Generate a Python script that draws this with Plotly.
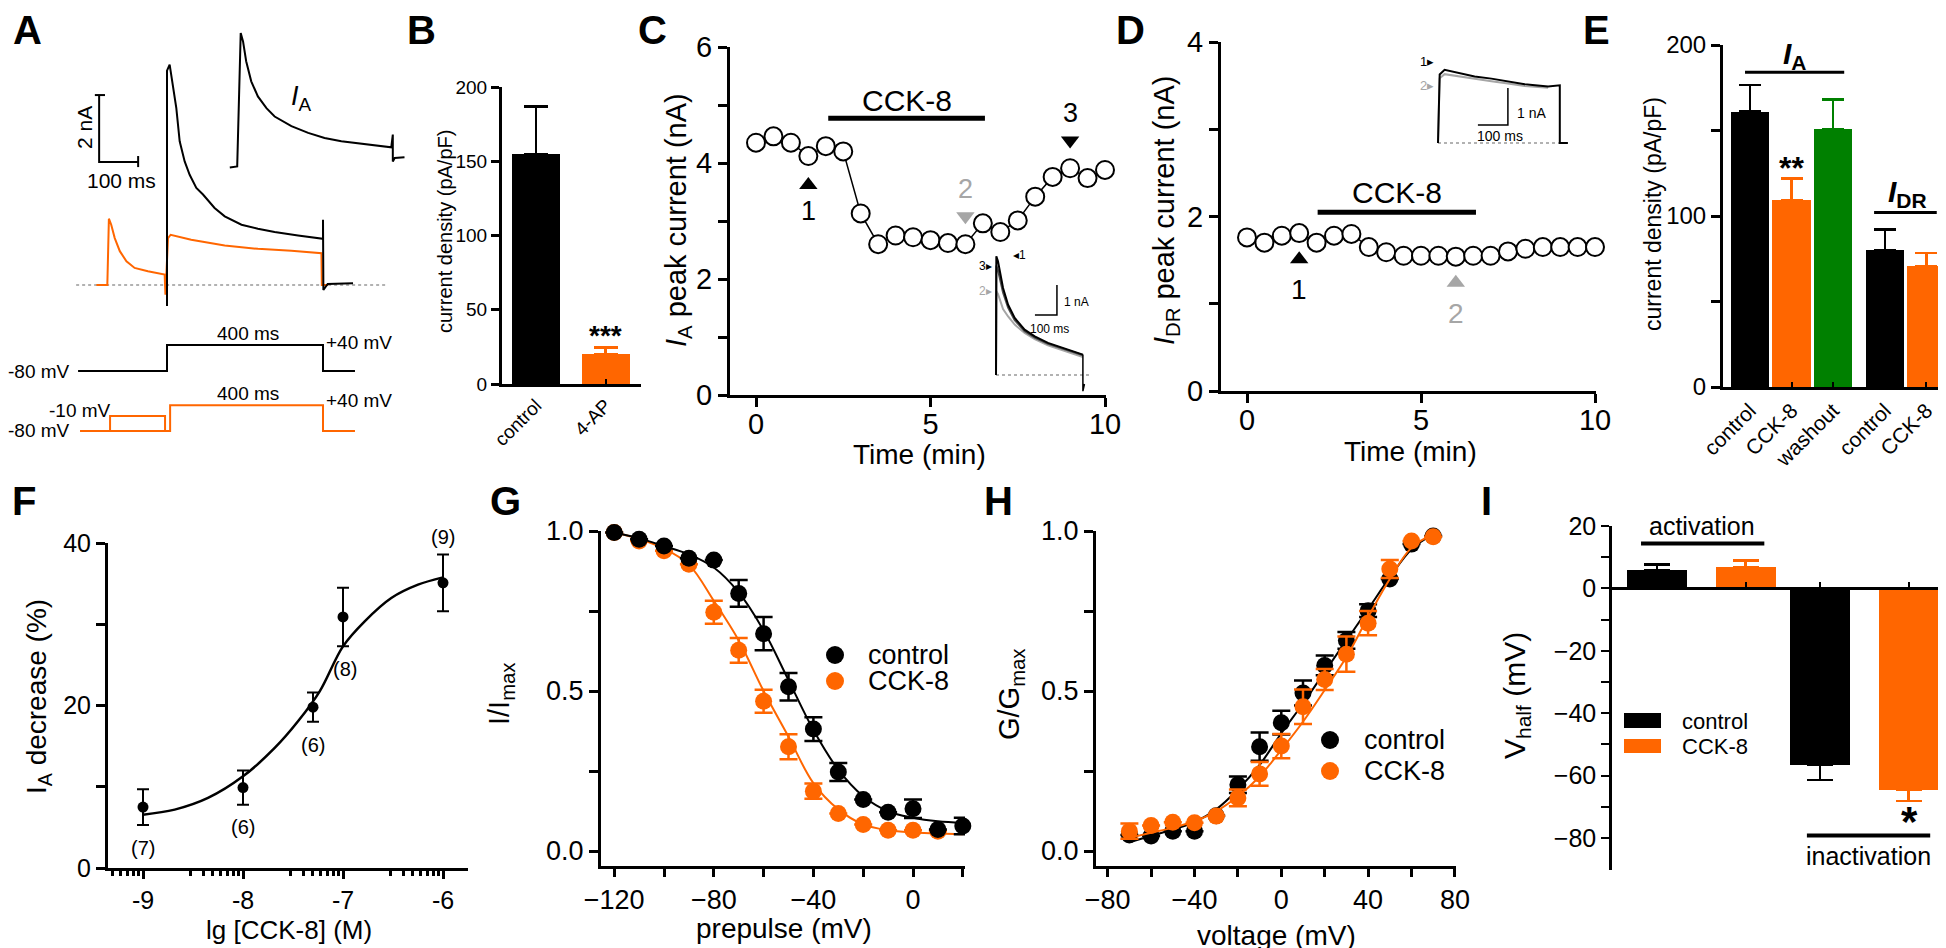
import plotly.graph_objects as go

W, H = 1946, 948
FONT = "Liberation Sans, Arial, Helvetica, sans-serif"
BLACK = "#000000"
ORANGE = "#FF6600"
GREEN = "#008000"
GRAY = "#A6A6A6"
DGRAY = "#4D4D4D"

# ======================= DATA =======================
# --- A: whole-cell currents (time in ms after step onset, current in nA)
A_ctrl_t = [0, 0, 6.8, 15.4, 23.9, 32.5, 45.3, 58.1, 75.2, 92.3, 122, 148, 191, 233, 276, 336, 400, 400, 401, 412, 477]
A_ctrl_i = [-0.63, 6.4, 6.58, 5.98, 5.28, 4.29, 3.69, 3.29, 2.90, 2.70, 2.30, 2.05, 1.80, 1.68, 1.58, 1.48, 1.38, 1.95, -0.15, 0.03, 0.05]
A_4ap_t = [-181, -153, -149, -143, -134, -121, -104, -83, -49, -6, -4, 2.6, 9.4, 62, 148, 233, 319, 396, 397, 413]
A_4ap_i = [0, 0, 1.98, 1.80, 1.40, 1.01, 0.71, 0.51, 0.41, 0.31, -0.29, 1.40, 1.50, 1.35, 1.18, 1.08, 1.02, 0.95, 0.0, 0.0]
# isolated I_A (subtracted trace)
A_IA_t = [-28, -9, 0, 6, 14, 27, 44, 66, 87, 130, 173, 215, 258, 322, 386, 390, 390, 395, 420]
A_IA_i = [-0.01, 0.02, 4.0, 3.75, 3.16, 2.56, 2.11, 1.76, 1.51, 1.22, 1.02, 0.87, 0.77, 0.67, 0.59, 0.97, 0.17, 0.27, 0.29]
A_zero_span = [-233, 562]
A_scale_nA = 2
A_scale_ms = 100
# voltage protocols (ms, mV)
A_prot_ctrl_t = [-228, 0, 0, 400, 400, 482]
A_prot_ctrl_v = [-80, -80, 40, 40, -80, -80]
A_prot_4ap_t = [-223, 8, 8, 400, 400, 482]
A_prot_4ap_v = [-80, -80, 40, 40, -80, -80]
A_prepulse_t = [-146, -146, -5, -5]
A_prepulse_v = [-80, -10, -10, -80]

# --- B: current density
B_cats = ["control", "4-AP"]
B_vals = [155, 20]
B_sem = [32, 4.7]

# --- C: I_A peak current time course
C_time = [0, 0.5, 1, 1.5, 2, 2.5, 3, 3.5, 4, 4.5, 5, 5.5, 6, 6.5, 7, 7.5, 8, 8.5, 9, 9.5, 10]
C_peak = [4.35, 4.46, 4.35, 4.12, 4.29, 4.20, 3.13, 2.60, 2.75, 2.72, 2.67, 2.62, 2.60, 2.96, 2.81,
          3.01, 3.42, 3.76, 3.91, 3.74, 3.88]
C_drug = [2.07, 6.56]
C_marks_t = [1.5, 6.0, 9.0]
C_marks_lbl = ["1", "2", "3"]
C_marks_below = [True, False, False]
# C inset traces (ms, nA)
Ci_t = [0, 1.5, 9, 17, 32, 55, 85, 130, 176, 236, 312, 395]
Ci_1 = [0, 3.96, 3.79, 3.46, 2.90, 2.34, 1.90, 1.51, 1.29, 1.07, 0.88, 0.68]
Ci_3 = [0, 3.65, 3.50, 3.25, 2.75, 2.25, 1.83, 1.46, 1.25, 1.04, 0.86, 0.66]
Ci_2 = [0, 2.79, 2.70, 2.50, 2.20, 1.95, 1.68, 1.40, 1.20, 0.99, 0.81, 0.60]
Ci_tail_t = [395, 395, 402]
Ci_tail_i = [0.68, -0.54, -0.30]

# --- D: I_DR peak current time course
D_time = [0, 0.5, 1, 1.5, 2, 2.5, 3, 3.5, 4, 4.5, 5, 5.5, 6, 6.5, 7, 7.5, 8, 8.5, 9, 9.5, 10]
D_peak = [1.76, 1.70, 1.78, 1.81, 1.70, 1.78, 1.80, 1.65, 1.59, 1.55, 1.55, 1.55, 1.54, 1.55, 1.55,
          1.60, 1.63, 1.65, 1.65, 1.65, 1.65]
D_drug = [2.03, 6.58]
D_marks_t = [1.5, 6.0]
D_marks_lbl = ["1", "2"]
# D inset traces (ms, nA)
Di_t = [0, 5.6, 22, 67, 122, 178, 233, 289, 367, 406, 406, 433]
Di_1 = [0, 1.85, 1.98, 1.89, 1.80, 1.74, 1.67, 1.59, 1.53, 1.56, 0, 0]
Di_t2 = [0, 5.6, 22, 67, 122, 178, 233, 289, 367]
Di_2 = [0, 1.75, 1.86, 1.80, 1.73, 1.67, 1.61, 1.54, 1.49]

# --- E: current density
E_cats = ["control", "CCK-8", "washout", "control", "CCK-8"]
E_pos = [0, 1, 2, 3.25, 4.25]
E_vals = [161, 109.5, 151, 80, 70.5]
E_sem = [15.5, 12.5, 17, 12, 8]

# --- F: concentration-response
F_logc = [-9, -8, -7.3, -7, -6]
F_dec = [7.5, 9.9, 19.8, 30.9, 35.1]
F_sem = [2.2, 2.1, 1.8, 3.6, 3.5]
F_n = ["(7)", "(6)", "(6)", "(8)", "(9)"]
F_fit_x = [-9, -8.683, -8.35, -8, -7.683, -7.45, -7.233, -7, -6.783, -6.517, -6.25, -6]
F_fit_y = [6.56, 7.18, 8.62, 11.28, 14.77, 18.05, 21.74, 27.28, 30.36, 33.23, 34.87, 35.77]

# --- G: steady-state inactivation
G_v = [-120, -110, -100, -90, -80, -70, -60, -50, -40, -30, -20, -10, 0, 10, 20]
G_ctrl = [0.995, 0.974, 0.953, 0.915, 0.909, 0.805, 0.679, 0.513, 0.381, 0.247, 0.161, 0.121, 0.132, 0.067, 0.078]
G_ctrl_sem = [None, None, None, None, None, 0.042, 0.052, 0.043, 0.037, 0.028, None, None, 0.029, None, 0.026]
G_v_cck = [-120, -110, -100, -90, -80, -70, -60, -50, -40, -30, -20, -10, 0, 10]
G_cck = [0.995, 0.969, 0.938, 0.896, 0.746, 0.627, 0.468, 0.326, 0.187, 0.117, 0.083, 0.065, 0.065, 0.062]
G_cck_sem = [None, None, None, None, 0.036, 0.039, 0.036, 0.039, 0.024, None, None, None, None, None]
G_fit_v = [-120, -110, -100, -90, -80, -70, -60, -50, -40, -30, -20, -10, 0, 10, 20]
G_fit_ctrl = [0.995, 0.977, 0.953, 0.927, 0.886, 0.808, 0.689, 0.534, 0.378, 0.254, 0.171, 0.124, 0.104, 0.093, 0.088]
G_fit_cck = [0.995, 0.975, 0.945, 0.895, 0.782, 0.658, 0.500, 0.357, 0.212, 0.130, 0.083, 0.065, 0.058, 0.055, 0.052]

# --- H: activation (G/Gmax)
H_v = [-70, -60, -50, -40, -30, -20, -10, 0, 10, 20, 30, 40, 50, 60, 70]
H_ctrl = [0.05, 0.047, 0.062, 0.062, 0.11, 0.207, 0.326, 0.401, 0.494, 0.580, 0.658, 0.751, 0.850, 0.959, 0.984]
H_ctrl_sem = [None, None, None, None, None, 0.026, 0.044, 0.037, 0.039, 0.031, 0.026, 0.02, None, None, None]
H_cck = [0.062, 0.080, 0.090, 0.088, 0.109, 0.166, 0.241, 0.328, 0.451, 0.536, 0.615, 0.712, 0.881, 0.969, 0.982]
H_cck_sem = [0.024, None, None, None, None, 0.026, 0.037, 0.038, 0.054, 0.033, 0.055, 0.038, 0.028, None, None]
H_fit_ctrl = [0.028, 0.047, 0.067, 0.090, 0.130, 0.192, 0.269, 0.368, 0.461, 0.560, 0.658, 0.756, 0.855, 0.943, 0.990]
H_fit_cck = [0.041, 0.057, 0.073, 0.093, 0.124, 0.171, 0.233, 0.316, 0.404, 0.503, 0.606, 0.731, 0.850, 0.948, 0.990]

# --- I: V_half
I_cond = ["control", "CCK-8", "control", "CCK-8"]
I_pos = [0, 1, 1.838, 2.838]
I_vals = [5.9, 6.8, -56.6, -64.6]
I_sem = [1.7, 2.1, 4.8, 3.6]

COND_COLOR = {"control": BLACK, "4-AP": ORANGE, "CCK-8": ORANGE, "washout": GREEN}

# ======================= LAYOUT HELPERS =======================
fig = go.Figure()
layout = {}
annotations = []
shapes = []

AX = dict(showline=True, linecolor=BLACK, linewidth=3, ticks="outside", ticklen=9, tickwidth=2.5,
          tickcolor=BLACK, showgrid=False, zeroline=False, fixedrange=True)


def lin_x(p0, p1, origin, ppu):
    return [(p0 - origin) / ppu, (p1 - origin) / ppu]


def lin_y(ptop, pbot, origin, ppu):
    return [(origin - pbot) / ppu, (origin - ptop) / ppu]


def axes(n, xpx, ypx, xr, yr, hidden=False, xkw=None, ykw=None):
    s = "" if n == 1 else str(n)
    xa = dict(domain=[xpx[0] / W, xpx[1] / W], range=xr, anchor="y" + s, fixedrange=True)
    ya = dict(domain=[1 - ypx[1] / H, 1 - ypx[0] / H], range=yr, anchor="x" + s, fixedrange=True)
    if hidden:
        xa.update(visible=False)
        ya.update(visible=False)
    else:
        xa.update(AX)
        ya.update(AX)
        xa.update(xkw or {})
        ya.update(ykw or {})
    layout["xaxis" + s] = xa
    layout["yaxis" + s] = ya
    return "x" + s, "y" + s


def tf(size):
    return dict(family=FONT, size=size, color=BLACK)


def ann_px(text, x, y, size, xanchor="center", yanchor="middle", angle=0, color=BLACK):
    annotations.append(dict(text=text, x=x / W, y=1 - y / H, xref="paper", yref="paper",
                            xanchor=xanchor, yanchor=yanchor, showarrow=False, textangle=angle,
                            font=dict(family=FONT, size=size, color=color)))


def ann_d(text, x, y, xr, yr, size, xanchor="center", yanchor="middle", color=BLACK):
    annotations.append(dict(text=text, x=x, y=y, xref=xr, yref=yr, xanchor=xanchor,
                            yanchor=yanchor, showarrow=False,
                            font=dict(family=FONT, size=size, color=color)))


def line(xr, yr, x0, x1, y0, y1, width=2, color=BLACK, dash=None):
    d = dict(type="line", xref=xr, yref=yr, x0=x0, x1=x1, y0=y0, y1=y1,
             line=dict(color=color, width=width))
    if dash:
        d["line"]["dash"] = dash
    shapes.append(d)


def sc(x, y, xa, ya, **kw):
    fig.add_trace(go.Scatter(x=x, y=y, xaxis=xa, yaxis=ya, cliponaxis=False, showlegend=False,
                             hoverinfo="skip", **kw))


# ======================= PANEL A =======================
xa1, ya1 = axes(1, [60, 410], [15, 300], lin_x(60, 410, 159, 0.39), lin_y(15, 300, 277, 33.5), hidden=True)
xa2, ya2 = axes(2, [60, 410], [320, 445], lin_x(60, 410, 159, 0.39), lin_y(320, 445, 345.7, 0.2167), hidden=True)
xa3, ya3 = axes(3, [60, 410], [320, 445], lin_x(60, 410, 159, 0.39), lin_y(320, 445, 405.8, 0.215), hidden=True)

sc(A_zero_span, [0, 0], xa1, ya1, mode="lines", line=dict(color="#999999", width=1.5, dash="dot"))
sc(A_4ap_t, A_4ap_i, xa1, ya1, mode="lines", line=dict(color=ORANGE, width=2))
sc(A_ctrl_t, A_ctrl_i, xa1, ya1, mode="lines", line=dict(color=BLACK, width=2))
IA_t0, IA_i0 = 189, 3.52
sc([t + IA_t0 for t in A_IA_t], [i + IA_i0 for i in A_IA_i], xa1, ya1, mode="lines",
   line=dict(color=BLACK, width=2))
# scale bar
sb_t, sb_i = -174, 3.67
sc([sb_t - 11, sb_t + 15, None, sb_t, sb_t, sb_t + A_scale_ms, None, sb_t + A_scale_ms, sb_t + A_scale_ms],
   [sb_i + A_scale_nA, sb_i + A_scale_nA, None, sb_i + A_scale_nA, sb_i, sb_i, None, sb_i + 0.18, sb_i - 0.15],
   xa1, ya1, mode="lines", line=dict(color=BLACK, width=2))
ann_px("2 nA", 76, 120, 21, angle=-90)
ann_px("100 ms", 113, 172, 21)
ann_px("<i>I</i><sub>A</sub>", 293, 90, 27)

sc(A_prot_ctrl_t, A_prot_ctrl_v, xa2, ya2, mode="lines", line=dict(color=BLACK, width=2))
sc(A_prot_4ap_t, A_prot_4ap_v, xa3, ya3, mode="lines", line=dict(color=ORANGE, width=2))
sc(A_prepulse_t, A_prepulse_v, xa3, ya3, mode="lines", line=dict(color=ORANGE, width=2))
ann_px("-80 mV", 64, 363, 19, xanchor="right")
ann_px("400 ms", 240, 325, 19)
ann_px("+40 mV", 316, 334, 19, xanchor="left")
ann_px("-10 mV", 72, 402, 19)
ann_px("-80 mV", 64, 423, 19, xanchor="right")
ann_px("400 ms", 240, 385, 19)
ann_px("+40 mV", 316, 392, 19, xanchor="left")

# ======================= PANEL B =======================
xb, yb = axes(4, [494, 633], [79, 376], [-0.49, 1.51], [0, 200],
              xkw=dict(tickvals=[0, 1], ticktext=B_cats, tickangle=-45, ticks="inside", ticklen=5,
                       tickwidth=2, tickfont=tf(19)),
              ykw=dict(tickvals=[0, 50, 100, 150, 200], tickfont=tf(19), ticklen=8))
for i, (c, v, e) in enumerate(zip(B_cats, B_vals, B_sem)):
    col = COND_COLOR[c]
    fig.add_trace(go.Bar(x=[i], y=[v], width=[0.69], xaxis=xb, yaxis=yb, marker=dict(color=col, line=dict(width=0)),
                         error_y=dict(type="data", array=[e], arrayminus=[0], symmetric=False, color=col,
                                      thickness=2.5, width=12),
                         showlegend=False, hoverinfo="skip", cliponaxis=False))
ann_d("<b>***</b>", 1, B_vals[1] + B_sem[1] + 8, xb, yb, 28)
ann_px("current density (pA/pF)", 437, 224, 20, angle=-90)

# ======================= PANEL C =======================
xc, yc = axes(5, [722, 1098], [39, 387], lin_x(722, 1098, 748, 34.9), [0, 6],
              xkw=dict(tickvals=[0, 5, 10], tickfont=tf(29), ticklabelstandoff=-8),
              ykw=dict(tickvals=[0, 2, 4, 6], tickfont=tf(29),
                       minor=dict(tickvals=[1, 3, 5], ticks="outside", ticklen=9, tickwidth=2.5, tickcolor=BLACK)))
sc(C_time, C_peak, xc, yc, mode="lines+markers", line=dict(color=BLACK, width=1.5),
   marker=dict(symbol="circle", size=18, color="white", line=dict(color=BLACK, width=2)))
line(xc, yc, C_drug[0], C_drug[1], 4.77, 4.77, width=5)
ann_d("CCK-8", sum(C_drug) / 2, 5.07, xc, yc, 30)
for t, lbl, below in zip(C_marks_t, C_marks_lbl, C_marks_below):
    v = C_peak[C_time.index(t)]
    col = GRAY if lbl == "2" else BLACK
    if below:
        sc([t], [v - 0.5], xc, yc, mode="markers", marker=dict(symbol="triangle-up", size=16, color=col))
        ann_d(lbl, t, v - 0.95, xc, yc, 27, color=col)
    else:
        sc([t], [v + 0.48], xc, yc, mode="markers", marker=dict(symbol="triangle-down", size=16, color=col))
        ann_d(lbl, t, v + 0.95, xc, yc, 27, color=col)
ann_px("<i>I</i><sub>A</sub> peak current (nA)", 670, 212, 29, angle=-90)
ann_px("Time (min)", 911, 446, 28)

# C inset
xci, yci = axes(6, [960, 1095], [240, 390], lin_x(960, 1095, 988, 0.22), lin_y(240, 390, 367, 30), hidden=True)
sc([0, 431], [0, 0], xci, yci, mode="lines", line=dict(color="#999999", width=1.5, dash="dot"))
sc(Ci_t, Ci_2, xci, yci, mode="lines", line=dict(color=GRAY, width=2))
sc(Ci_t, Ci_3, xci, yci, mode="lines", line=dict(color=DGRAY, width=2))
sc(Ci_t, Ci_1, xci, yci, mode="lines", line=dict(color=BLACK, width=2))
sc(Ci_tail_t, Ci_tail_i, xci, yci, mode="lines", line=dict(color=BLACK, width=1.5))
sc([277, 277, 177], [3.0, 2.0, 2.0], xci, yci, mode="lines", line=dict(color=BLACK, width=1.5))
ann_d("1 nA", 300, 2.45, xci, yci, 12, xanchor="left")
ann_d("100 ms", 245, 1.55, xci, yci, 12)
ann_d("3\u25B8", -8, 3.65, xci, yci, 12, xanchor="right")
ann_d("\u25C21", 70, 4.0, xci, yci, 12, xanchor="left")
ann_d("2\u25B8", -8, 2.8, xci, yci, 12, xanchor="right", color=GRAY)

# ======================= PANEL D =======================
xd, yd = axes(7, [1213, 1588], [34, 383], lin_x(1213, 1588, 1239, 34.8), [0, 4],
              xkw=dict(tickvals=[0, 5, 10], tickfont=tf(29), ticklabelstandoff=-8),
              ykw=dict(tickvals=[0, 2, 4], tickfont=tf(29),
                       minor=dict(tickvals=[1, 3], ticks="outside", ticklen=9, tickwidth=2.5, tickcolor=BLACK)))
sc(D_time, D_peak, xd, yd, mode="lines+markers", line=dict(color=BLACK, width=1.5),
   marker=dict(symbol="circle", size=18, color="white", line=dict(color=BLACK, width=2)))
line(xd, yd, D_drug[0], D_drug[1], 2.05, 2.05, width=5)
ann_d("CCK-8", sum(D_drug) / 2, 2.27, xd, yd, 30)
for t, lbl in zip(D_marks_t, D_marks_lbl):
    v = D_peak[D_time.index(t)]
    col = GRAY if lbl == "2" else BLACK
    sc([t], [v - 0.3], xd, yd, mode="markers", marker=dict(symbol="triangle-up", size=16, color=col))
    ann_d(lbl, t, v - 0.65, xd, yd, 28, color=col)
ann_px("<i>I</i><sub>DR</sub> peak current (nA)", 1158, 203, 29, angle=-90)
ann_px("Time (min)", 1402, 443, 28)

# D inset
xdi, ydi = axes(8, [1400, 1580], [40, 145], lin_x(1400, 1580, 1430, 0.3), lin_y(40, 145, 135, 37), hidden=True)
sc([0, 433], [0, 0], xdi, ydi, mode="lines", line=dict(color="#999999", width=1.5, dash="dot"))
sc(Di_t2, Di_2, xdi, ydi, mode="lines", line=dict(color=GRAY, width=2))
sc(Di_t, Di_1, xdi, ydi, mode="lines", line=dict(color=BLACK, width=2))
sc([233, 233, 133], [1.486, 0.486, 0.486], xdi, ydi, mode="lines", line=dict(color=BLACK, width=1.5))
ann_d("1 nA", 255, 0.81, xdi, ydi, 14, xanchor="left")
ann_d("100 ms", 207, 0.18, xdi, ydi, 14)
ann_d("1\u25B8", -8, 2.2, xdi, ydi, 13, xanchor="right")
ann_d("2\u25B8", -8, 1.55, xdi, ydi, 13, xanchor="right", color=GRAY)

# ======================= PANEL E =======================
xe, ye = axes(9, [1715, 1943], [37, 379], lin_x(1715, 1943, 1742, 41.5), [0, 200],
              xkw=dict(tickvals=E_pos, ticktext=E_cats, tickangle=-45, ticks="inside", ticklen=5,
                       tickwidth=2, tickfont=tf(21)),
              ykw=dict(tickvals=[0, 100, 200], tickfont=tf(24),
                       minor=dict(tickvals=[50, 150], ticks="outside", ticklen=9, tickwidth=2.5, tickcolor=BLACK)))
for p, c, v, e in zip(E_pos, E_cats, E_vals, E_sem):
    col = COND_COLOR[c]
    fig.add_trace(go.Bar(x=[p], y=[v], width=[0.92], xaxis=xe, yaxis=ye, marker=dict(color=col, line=dict(width=0)),
                         error_y=dict(type="data", array=[e], arrayminus=[0], symmetric=False, color=col,
                                      thickness=2.5, width=11),
                         showlegend=False, hoverinfo="skip", cliponaxis=False))
line(xe, ye, -0.12, 2.27, 184, 184, width=3)
line(xe, ye, 2.99, 4.5, 102, 102, width=3)
ann_d("<b><i>I</i><sub>A</sub></b>", 1.08, 194, xe, ye, 30)
ann_d("<b><i>I</i><sub>DR</sub></b>", 3.8, 113, xe, ye, 30)
ann_d("<b>**</b>", 1, E_vals[1] + E_sem[1] + 6, xe, ye, 32)
ann_px("current density (pA/pF)", 1645, 206, 23, angle=-90)

# ======================= PANEL F =======================
F_minor = [m * 10.0 ** d for d in (-10, -9, -8, -7) for m in (3, 4, 5, 6, 7, 8, 9)]
xf, yf = axes(10, [100, 460], [535, 860], [-9.35, -5.75], [0, 40],
              xkw=dict(type="log", tickvals=[1e-9, 1e-8, 1e-7, 1e-6], ticktext=["-9", "-8", "-7", "-6"],
                       tickfont=tf(25), ticklen=8,
                       minor=dict(tickvals=F_minor, ticks="outside", ticklen=5, tickwidth=2.5, tickcolor=BLACK)),
              ykw=dict(tickvals=[0, 20, 40], tickfont=tf(25),
                       minor=dict(tickvals=[10, 30], ticks="outside", ticklen=9, tickwidth=2.5, tickcolor=BLACK)))
sc([10 ** x for x in F_fit_x], F_fit_y, xf, yf, mode="lines", line=dict(color=BLACK, width=2.5, shape="spline"))
sc([10 ** x for x in F_logc], F_dec, xf, yf, mode="markers", marker=dict(size=11, color=BLACK),
   error_y=dict(type="data", array=F_sem, color=BLACK, thickness=2, width=6))
for lc, v, e, n in zip(F_logc, F_dec, F_sem, F_n):
    if n == "(9)":
        ann_d(n, lc, v + e + 0.6, xf, yf, 20, yanchor="bottom")
    else:
        ann_d(n, lc + (0.02 if n == "(8)" else 0), v - e - 1.2, xf, yf, 20, yanchor="top")
ann_px("I<sub>A</sub> decrease (%)", 30, 689, 28, angle=-90)
ann_px("lg [CCK-8] (M)", 281, 922, 26)

# ======================= PANEL G =======================
G_ppu = 320
xg, yg = axes(11, [593, 957], [523, 858], lin_x(593, 957, 905, 2.49), lin_y(523, 858, 843, G_ppu),
              xkw=dict(tickvals=[-120, -80, -40, 0], tickfont=tf(27), ticklen=8,
                       minor=dict(tickvals=[-100, -60, -20, 20], ticks="outside", ticklen=8, tickwidth=2.5, tickcolor=BLACK)),
              ykw=dict(tickvals=[0, 0.5, 1.0], ticktext=["0.0", "0.5", "1.0"], tickfont=tf(27),
                       minor=dict(tickvals=[0.25, 0.75], ticks="outside", ticklen=9, tickwidth=2.5, tickcolor=BLACK)))
sc(G_fit_v, G_fit_cck, xg, yg, mode="lines", line=dict(color=ORANGE, width=2, shape="spline"))
sc(G_v_cck, G_cck, xg, yg, mode="markers", marker=dict(size=17, color=ORANGE),
   error_y=dict(type="data", array=G_cck_sem, color=ORANGE, thickness=2.5, width=9))
sc(G_fit_v, G_fit_ctrl, xg, yg, mode="lines", line=dict(color=BLACK, width=2, shape="spline"))
sc(G_v, G_ctrl, xg, yg, mode="markers", marker=dict(size=17, color=BLACK),
   error_y=dict(type="data", array=G_ctrl_sem, color=BLACK, thickness=2.5, width=9))
ann_px("I/I<sub>max</sub>", 493, 686, 29, angle=-90)
ann_px("prepulse (mV)", 776, 920, 28)

# ======================= PANEL H =======================
xh, yh = axes(12, [1088, 1448], [523, 858], lin_x(1088, 1448, 1273.3, 2.17), lin_y(523, 858, 843, G_ppu),
              xkw=dict(tickvals=[-80, -40, 0, 40, 80], tickfont=tf(27), ticklen=8,
                       minor=dict(tickvals=[-60, -20, 20, 60], ticks="outside", ticklen=8, tickwidth=2.5, tickcolor=BLACK)),
              ykw=dict(tickvals=[0, 0.5, 1.0], ticktext=["0.0", "0.5", "1.0"], tickfont=tf(27),
                       minor=dict(tickvals=[0.25, 0.75], ticks="outside", ticklen=9, tickwidth=2.5, tickcolor=BLACK)))
sc(H_v, H_fit_ctrl, xh, yh, mode="lines", line=dict(color=BLACK, width=2, shape="spline"))
sc(H_v, H_ctrl, xh, yh, mode="markers", marker=dict(size=17, color=BLACK),
   error_y=dict(type="data", array=H_ctrl_sem, color=BLACK, thickness=2.5, width=9))
sc(H_v, H_fit_cck, xh, yh, mode="lines", line=dict(color=ORANGE, width=2, shape="spline"))
sc(H_v, H_cck, xh, yh, mode="markers", marker=dict(size=17, color=ORANGE),
   error_y=dict(type="data", array=H_cck_sem, color=ORANGE, thickness=2.5, width=9))
ann_px("G/G<sub>max</sub>", 1003, 686, 29, angle=-90)
ann_px("voltage (mV)", 1268, 927, 28)

# ======================= PANEL I =======================
I_ppu = 3.12
I_zero_px = 580.4
xi, yi = axes(13, [1604, 1946], [518, 862], lin_x(1604, 1946, 1649, 88.7), lin_y(518, 862, I_zero_px, I_ppu),
              xkw=dict(anchor="free", position=1 - I_zero_px / H, tickvals=I_pos, ticks="inside",
                       ticklen=6, tickwidth=2, showticklabels=False, linewidth=2.5),
              ykw=dict(tickvals=[-80, -60, -40, -20, 0, 20], tickfont=tf(25), linewidth=2.5, ticklen=8, tickwidth=2,
                       minor=dict(tickvals=[-70, -50, -30, -10, 10], ticks="outside", ticklen=8, tickwidth=2, tickcolor=BLACK)))
for p, c, v, e in zip(I_pos, I_cond, I_vals, I_sem):
    col = COND_COLOR[c]
    up = v >= 0
    fig.add_trace(go.Bar(x=[p], y=[v], width=[0.677], xaxis=xi, yaxis=yi, marker=dict(color=col, line=dict(width=0)),
                         error_y=dict(type="data", array=[e if up else 0], arrayminus=[0 if up else e],
                                      symmetric=False, color=col, thickness=2.5, width=13),
                         showlegend=False, hoverinfo="skip", cliponaxis=False))
line(xi, yi, -0.18, 1.21, 14.4, 14.4, width=4)
line(xi, yi, 1.69, 3.08, -79.2, -79.2, width=4)
ann_px("activation", 1694, 518, 25)
ann_d("inactivation", 2.39, -85.8, xi, yi, 25)
ann_d("<b>*</b>", I_pos[3] + 0.01, I_vals[3] - I_sem[3] - 6.5, xi, yi, 42)
ann_px("V<sub>half</sub> (mV)", 1508, 688, 30, angle=-90)

# ======================= LEGENDS (G, H, I) =======================
def circle_px(cx, cy, d, color):
    shapes.append(dict(type="circle", xref="paper", yref="paper", x0=(cx - d / 2) / W, x1=(cx + d / 2) / W,
                       y0=1 - (cy + d / 2) / H, y1=1 - (cy - d / 2) / H, fillcolor=color, line=dict(width=0)))


def rect_px(x0, x1, y0, y1, color):
    shapes.append(dict(type="rect", xref="paper", yref="paper", x0=x0 / W, x1=x1 / W,
                       y0=1 - y1 / H, y1=1 - y0 / H, fillcolor=color, line=dict(width=0)))


circle_px(827, 647, 18, BLACK)
circle_px(827, 673, 18, ORANGE)
ann_px("control", 858, 647, 27, xanchor="left")
ann_px("CCK-8", 858, 673, 27, xanchor="left")
circle_px(1322, 732, 18, BLACK)
circle_px(1322, 763, 18, ORANGE)
ann_px("control", 1354, 732, 27, xanchor="left")
ann_px("CCK-8", 1354, 763, 27, xanchor="left")
rect_px(1616, 1653, 705, 720, BLACK)
rect_px(1616, 1653, 731, 745, ORANGE)
ann_px("control", 1672, 713, 22, xanchor="left")
ann_px("CCK-8", 1672, 738, 22, xanchor="left")

# ======================= PANEL LETTERS =======================
for letter, x, y in [("A", 19, 22), ("B", 413, 22), ("C", 644, 22), ("D", 1122, 22), ("E", 1588, 22),
                     ("F", 16, 493), ("G", 497, 493), ("H", 991, 493), ("I", 1478, 493)]:
    ann_px("<b>%s</b>" % letter, x, y, 40)

fig.update_layout(**layout)
fig.update_layout(width=W, height=H, margin=dict(l=0, r=0, t=0, b=0), template="none",
                  paper_bgcolor="white", plot_bgcolor="rgba(0,0,0,0)", showlegend=False,
                  font=dict(family=FONT, color=BLACK), annotations=annotations, shapes=shapes,
                  bargap=0)
fig.write_html("out.html")
